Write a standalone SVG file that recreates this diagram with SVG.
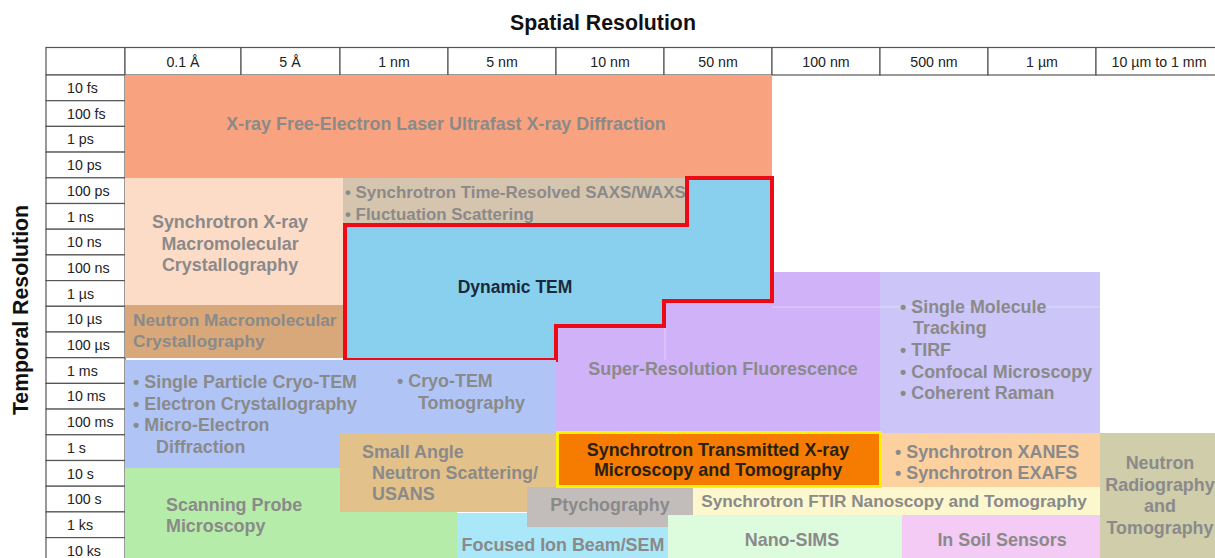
<svg xmlns="http://www.w3.org/2000/svg" width="1215" height="558" viewBox="0 0 1215 558">
  <style>
    .lbl { font-family: "Liberation Sans", Arial, sans-serif; font-weight: bold; font-size: 17.9px; fill: #8a8a8a; }
    .mid { text-anchor: middle; }
    .hdr { font-family: "Liberation Sans", Arial, sans-serif; font-size: 14.2px; fill: #222; text-anchor: middle; }
    .row { font-family: "Liberation Sans", Arial, sans-serif; font-size: 14.2px; fill: #222; }
    .axis { font-family: "Liberation Sans", Arial, sans-serif; font-weight: bold; font-size: 21.3px; fill: #111; text-anchor: middle; }
    .cell { fill: #fff; stroke: #555; stroke-width: 1.2; }
  </style>
  <rect width="1215" height="558" fill="#fff"/>

  <!-- axis titles -->
  <text class="axis" x="603" y="30">Spatial Resolution</text>
  <text class="axis" transform="translate(28,310) rotate(-90)">Temporal Resolution</text>

  <!-- header row -->
  <g id="header">
    <rect class="cell" x="46" y="47.5" width="79" height="27.5"/>
    <rect class="cell" x="125" y="47.5" width="116" height="27.5"/>
    <rect class="cell" x="241" y="47.5" width="99" height="27.5"/>
    <rect class="cell" x="340" y="47.5" width="108" height="27.5"/>
    <rect class="cell" x="448" y="47.5" width="108" height="27.5"/>
    <rect class="cell" x="556" y="47.5" width="108" height="27.5"/>
    <rect class="cell" x="664" y="47.5" width="108" height="27.5"/>
    <rect class="cell" x="772" y="47.5" width="108" height="27.5"/>
    <rect class="cell" x="880" y="47.5" width="108" height="27.5"/>
    <rect class="cell" x="988" y="47.5" width="108" height="27.5"/>
    <rect class="cell" x="1096" y="47.5" width="125" height="27.5"/>
    <text class="hdr" x="183" y="66.5">0.1 Å</text>
    <text class="hdr" x="290" y="66.5">5 Å</text>
    <text class="hdr" x="394" y="66.5">1 nm</text>
    <text class="hdr" x="502" y="66.5">5 nm</text>
    <text class="hdr" x="610" y="66.5">10 nm</text>
    <text class="hdr" x="718" y="66.5">50 nm</text>
    <text class="hdr" x="826" y="66.5">100 nm</text>
    <text class="hdr" x="934" y="66.5">500 nm</text>
    <text class="hdr" x="1042" y="66.5">1 µm</text>
    <text class="hdr" x="1159" y="66.5">10 µm to 1 mm</text>
  </g>

  <!-- row labels -->
  <g id="rows">
    <rect class="cell" x="46" y="75" width="79" height="25.7"/>
    <rect class="cell" x="46" y="100.7" width="79" height="25.7"/>
    <rect class="cell" x="46" y="126.4" width="79" height="25.7"/>
    <rect class="cell" x="46" y="152.1" width="79" height="25.7"/>
    <rect class="cell" x="46" y="177.8" width="79" height="25.7"/>
    <rect class="cell" x="46" y="203.5" width="79" height="25.7"/>
    <rect class="cell" x="46" y="229.2" width="79" height="25.7"/>
    <rect class="cell" x="46" y="254.9" width="79" height="25.7"/>
    <rect class="cell" x="46" y="280.6" width="79" height="25.7"/>
    <rect class="cell" x="46" y="306.3" width="79" height="25.7"/>
    <rect class="cell" x="46" y="332" width="79" height="25.7"/>
    <rect class="cell" x="46" y="357.7" width="79" height="25.7"/>
    <rect class="cell" x="46" y="383.4" width="79" height="25.7"/>
    <rect class="cell" x="46" y="409.1" width="79" height="25.7"/>
    <rect class="cell" x="46" y="434.8" width="79" height="25.7"/>
    <rect class="cell" x="46" y="460.5" width="79" height="25.7"/>
    <rect class="cell" x="46" y="486.2" width="79" height="25.7"/>
    <rect class="cell" x="46" y="511.9" width="79" height="25.7"/>
    <rect class="cell" x="46" y="537.6" width="79" height="25.7"/>
    <text class="row" x="67" y="93">10 fs</text>
    <text class="row" x="67" y="118.7">100 fs</text>
    <text class="row" x="67" y="144.4">1 ps</text>
    <text class="row" x="67" y="170.1">10 ps</text>
    <text class="row" x="67" y="195.8">100 ps</text>
    <text class="row" x="67" y="221.5">1 ns</text>
    <text class="row" x="67" y="247.2">10 ns</text>
    <text class="row" x="67" y="272.9">100 ns</text>
    <text class="row" x="67" y="298.6">1 µs</text>
    <text class="row" x="67" y="324.3">10 µs</text>
    <text class="row" x="67" y="350">100 µs</text>
    <text class="row" x="67" y="375.7">1 ms</text>
    <text class="row" x="67" y="401.4">10 ms</text>
    <text class="row" x="67" y="427.1">100 ms</text>
    <text class="row" x="67" y="452.8">1 s</text>
    <text class="row" x="67" y="478.5">10 s</text>
    <text class="row" x="67" y="504.2">100 s</text>
    <text class="row" x="67" y="529.9">1 ks</text>
    <text class="row" x="67" y="555.6">10 ks</text>
  </g>

  <!-- technique regions -->
  <g id="xfel">
    <rect x="125" y="75" width="647" height="103" fill="#f9a27f"/>
    <text class="lbl mid" x="446" y="130">X-ray Free-Electron Laser Ultrafast X-ray Diffraction</text>
  </g>

  <g id="sx-mx">
    <rect x="125" y="178" width="220" height="127" fill="#fddcc7"/>
    <text class="lbl mid" x="230" y="228">Synchrotron X-ray</text>
    <text class="lbl mid" x="230" y="250">Macromolecular</text>
    <text class="lbl mid" x="230" y="271">Crystallography</text>
  </g>

  <g id="neutron-mx">
    <rect x="125" y="305" width="220" height="53" fill="#d9a87a"/>
    <text class="lbl" x="133" y="326" style="font-size:17.3px">Neutron Macromolecular</text>
    <text class="lbl" x="133" y="347" style="font-size:17.3px">Crystallography</text>
  </g>

  <g id="saxs">
    <rect x="343" y="178" width="344" height="48" fill="#d6c5ae"/>
    <text class="lbl" x="345" y="198" style="font-size:16.9px">• Synchrotron Time-Resolved SAXS/WAXS</text>
    <text class="lbl" x="345" y="220" style="font-size:16.9px">• Fluctuation Scattering</text>
  </g>

  <g id="super-res">
    <rect x="556" y="272" width="324" height="161" fill="#d0b2f9"/>
    <line x1="772" y1="307" x2="880" y2="307" stroke="#e6d8fb" stroke-width="0.8"/>
    <line x1="665" y1="301" x2="665" y2="360" stroke="#e6d8fb" stroke-width="0.8"/>
    <text class="lbl mid" x="723" y="375">Super-Resolution Fluorescence</text>
  </g>

  <g id="single-molecule">
    <rect x="880" y="272" width="220" height="161" fill="#ccc5f8"/>
    <line x1="880" y1="307" x2="1100" y2="307" stroke="#e4e0fb" stroke-width="0.8"/>
    <text class="lbl" x="900" y="313">• Single Molecule</text>
    <text class="lbl" x="913" y="334">Tracking</text>
    <text class="lbl" x="900" y="356">• TIRF</text>
    <text class="lbl" x="900" y="378">• Confocal Microscopy</text>
    <text class="lbl" x="900" y="399">• Coherent Raman</text>
  </g>

  <g id="dynamic-tem">
    <polygon points="687,178 772,178 772,301 664,301 664,326 556,326 556,360 345,360 345,225 687,225" fill="#89cfee" stroke="#ee0a14" stroke-width="4" stroke-linejoin="miter"/>
    <text class="lbl mid" x="515" y="293" style="fill:#1b2838;font-size:17.5px">Dynamic TEM</text>
  </g>

  <g id="cryo">
    <rect x="125" y="360" width="431" height="108" fill="#b0c5f6"/>
    <text class="lbl" x="133" y="388">• Single Particle Cryo-TEM</text>
    <text class="lbl" x="133" y="410">• Electron Crystallography</text>
    <text class="lbl" x="133" y="431">• Micro-Electron</text>
    <text class="lbl" x="156" y="453">Diffraction</text>
    <text class="lbl" x="397" y="387">• Cryo-TEM</text>
    <text class="lbl" x="418" y="409">Tomography</text>
  </g>

  <g id="sans">
    <rect x="340" y="433" width="216" height="79" fill="#e2c18b"/>
    <text class="lbl" x="362" y="458">Small Angle</text>
    <text class="lbl" x="372" y="479">Neutron Scattering/</text>
    <text class="lbl" x="372" y="500">USANS</text>
  </g>

  <g id="spm">
    <rect x="125" y="468" width="215" height="90" fill="#b6eca9"/>
    <rect x="340" y="512" width="117" height="46" fill="#b6eca9"/>
    <text class="lbl" x="166" y="511">Scanning Probe</text>
    <text class="lbl" x="166" y="532">Microscopy</text>
  </g>

  <g id="fib">
    <rect x="457" y="513" width="211" height="45" fill="#a9e7f9"/>
    <text class="lbl mid" x="563" y="551">Focused Ion Beam/SEM</text>
  </g>

  <g id="ptychography">
    <rect x="527" y="487" width="166" height="40" fill="#c2bdbb"/>
    <text class="lbl mid" x="610" y="511">Ptychography</text>
  </g>

  <g id="xanes">
    <rect x="880" y="433" width="220" height="54" fill="#fdd0a0"/>
    <text class="lbl" x="895" y="458">• Synchrotron XANES</text>
    <text class="lbl" x="895" y="479">• Synchrotron EXAFS</text>
  </g>

  <g id="ftir">
    <rect x="693" y="487" width="407" height="28" fill="#fcf7cd"/>
    <text class="lbl mid" x="894" y="507" style="font-size:17.2px">Synchrotron FTIR Nanoscopy and Tomography</text>
  </g>

  <g id="nano-sims">
    <rect x="668" y="515" width="234" height="43" fill="#ddfbdd"/>
    <text class="lbl mid" x="792" y="546">Nano-SIMS</text>
  </g>

  <g id="soil">
    <rect x="902" y="515" width="198" height="43" fill="#f3cbf5"/>
    <text class="lbl mid" x="1002" y="546">In Soil Sensors</text>
  </g>

  <g id="neutron-radiography">
    <rect x="1100" y="433" width="115" height="125" fill="#cfcdaa"/>
    <text class="lbl mid" x="1160" y="469">Neutron</text>
    <text class="lbl mid" x="1160" y="491">Radiography</text>
    <text class="lbl mid" x="1160" y="512">and</text>
    <text class="lbl mid" x="1160" y="534">Tomography</text>
  </g>

  <g id="stxm">
    <rect x="557.5" y="432.5" width="323" height="54" fill="#f57c00" stroke="#fff200" stroke-width="3"/>
    <text class="lbl mid" x="718" y="456" style="fill:#2a1f14">Synchrotron Transmitted X-ray</text>
    <text class="lbl mid" x="718" y="476" style="fill:#2a1f14">Microscopy and Tomography</text>
  </g>

  <g id="connectors"/>
</svg>
